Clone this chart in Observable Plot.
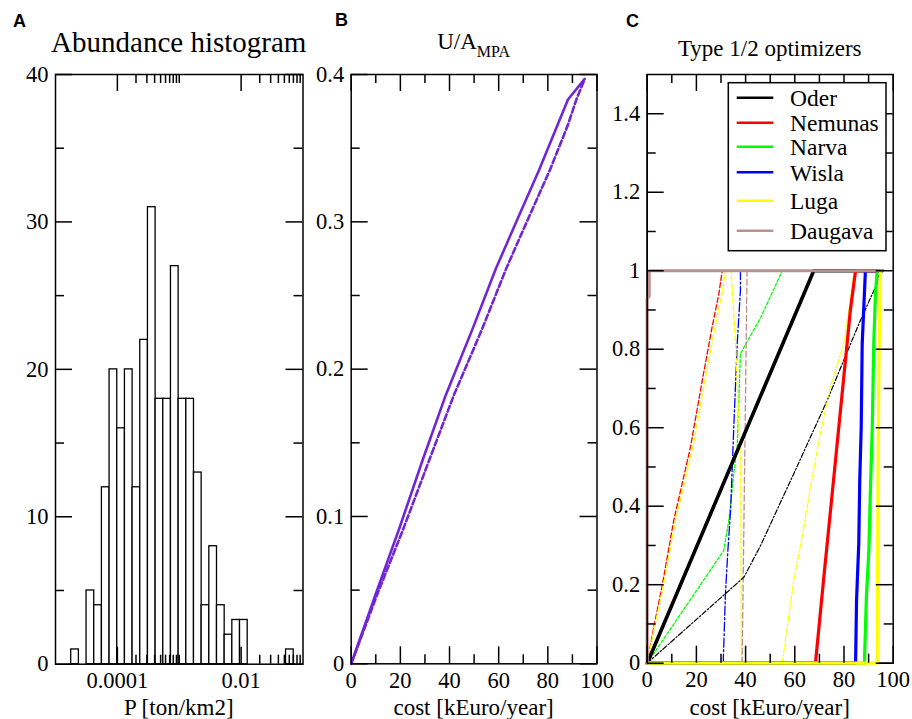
<!DOCTYPE html>
<html>
<head>
<meta charset="utf-8">
<script src="https://cdn.jsdelivr.net/npm/d3@7"></script>
<script src="https://cdn.jsdelivr.net/npm/@observablehq/plot@0.6"></script>
<style>
  body { margin: 0; background: #fff; }
  #chart { position: relative; width: 912px; height: 719px; overflow: hidden; background: #fff; }
  #chart svg { position: absolute; left: 0; top: 0; }
</style>
</head>
<body>
<div id="chart"></div>
<script>
// ---------------- DATA ----------------
// Panel A: histogram of abundance P (log10 bin edges and counts)
const histEdgesLog10 = [-4.746, -4.622, -4.498, -4.374, -4.250, -4.126, -4.002, -3.878, -3.754, -3.630,
  -3.506, -3.382, -3.258, -3.134, -3.010, -2.886, -2.762, -2.638, -2.514, -2.390,
  -2.266, -2.142, -2.018, -1.894, -1.770, -1.646, -1.522, -1.398, -1.274, -1.150];
const histCounts = [1, 0, 5, 4, 12, 20, 16, 20, 12, 22, 31, 18, 18, 27, 18, 18, 13, 4, 8, 4, 2, 3, 3, 0, 0, 0, 0, 0, 1];
const aXTicks = [1e-4, 1e-2];
const aXTickLabels = ["0.0001", "0.01"];
const aYTicks = [0, 10, 20, 30, 40];
const aYTickLabels = ["0", "10", "20", "30", "40"];

// Panel B: U/A_MPA vs cost
const bSolidCost = [0, 10.1, 19.6, 29.1, 38.5, 49.3, 58.8, 68.2, 76.4, 88.2, 95.0];
const bSolidUA   = [0, 0.048, 0.092, 0.1385, 0.1825, 0.227, 0.268, 0.304, 0.335, 0.383, 0.397];
const bDashCost  = [0, 10.8, 21.3, 31.8, 41.8, 53.2, 63.0, 72.5, 80.8, 88.0, 91.6, 95.0];
const bDashUA    = [0, 0.048, 0.092, 0.1385, 0.1825, 0.227, 0.268, 0.304, 0.335, 0.365, 0.383, 0.397];
const bXTicks = [0, 20, 40, 60, 80, 100];
const bXTickLabels = ["0", "20", "40", "60", "80", "100"];
const bYTicks = [0, 0.1, 0.2, 0.3, 0.4];
const bYTickLabels = ["0", "0.1", "0.2", "0.3", "0.4"];

// Panel C: Type 1/2 optimizers, [cost, fraction]
const rivers = ["Oder", "Nemunas", "Narva", "Wisla", "Luga", "Daugava"];
const riverColors = ["#000000", "#ff0000", "#00ff00", "#0000ff", "#ffff00", "#bc8f8f"];

const oderThick    = [[0,0],[67.7,1],[95.5,1]];
const nemunasThick = [[0,0],[68.4,0],[71.8,0.219],[75.2,0.432],[77.9,0.602],[80.6,0.772],[82.6,0.9],[84.7,1],[95.5,1]];
const narvaThick   = [[0,0],[88.3,0],[89.1,0.168],[90.1,0.287],[90.7,0.432],[91.5,0.602],[92.1,0.815],[92.8,0.942],[93.5,1],[95.5,1]];
const wislaThick   = [[0,0],[84.7,0],[85.1,0.16],[86.0,0.304],[86.4,0.466],[87.0,0.602],[87.4,0.815],[88.3,0.942],[88.7,1],[95.5,1]];
const lugaThick    = [[0,0],[93.5,0],[93.8,0.43],[94.2,0.77],[94.8,1],[95.5,1]];
const daugavaThick = [[0,0],[0,0.93],[0.8,0.935],[0.8,1],[95.5,1]];

const oderThin     = [[0,0],[39.3,0.219],[46.1,0.3],[59.6,0.483],[73.2,0.670],[79.9,0.772],[86.7,0.874],[93.5,0.968],[94.2,0.993]];
const nemunasThin  = [[0,0],[2.7,0.092],[6.1,0.198],[10.8,0.364],[17.6,0.551],[22.4,0.721],[26.4,0.857],[29.1,0.94],[30.5,1]];
const narvaThin    = [[0,0],[31.1,0.287],[33.2,0.364],[35.2,0.483],[36.6,0.551],[37.9,0.789],[46.1,0.88],[54.9,1]];
const wislaThin    = [[30.9,0],[31.8,0.177],[32.8,0.287],[33.9,0.39],[35.2,0.602],[36.6,0.815],[37.9,0.95],[37.9,1]];
const lugaThinA    = [[0,0],[3.0,0.092],[6.6,0.198],[11.5,0.364],[18.6,0.551],[23.5,0.721],[27.6,0.857],[30.4,0.94],[31.8,1]];
const lugaThinB    = [[38.3,0],[38.1,0.35],[37.9,0.52],[37.0,0.65],[35.9,0.815],[34.1,1]];
const lugaThinC    = [[54.9,0],[59.6,0.211],[63.7,0.347],[66.4,0.449],[70.4,0.585],[74.5,0.704],[79.9,0.815],[82.0,0.9],[84.0,0.993]];
const daugavaThin  = [[38.6,0],[40.6,1]];

const cXTicks = [0, 20, 40, 60, 80, 100];
const cXTickLabels = ["0", "20", "40", "60", "80", "100"];
const cYTicks = [0, 0.2, 0.4, 0.6, 0.8, 1.0, 1.2, 1.4];
const cYTickLabels = ["0", "0.2", "0.4", "0.6", "0.8", "1", "1.2", "1.4"];

// ---------------- LAYOUT ----------------
const W = 912, H = 719;
const serif = "'Liberation Serif', 'Times New Roman', serif";
const LA = {left: 55, right: 302.5, top: 74, bottom: 663.7};
const LB = {left: 350.7, right: 596.5, top: 74, bottom: 663.3};
const LC = {left: 646.7, right: 892.7, top: 74, bottom: 662.7};
const MAJ = 17, MIN = 9;

function margins(L) {
  return {width: W, height: H, marginLeft: L.left, marginRight: W - L.right, marginTop: L.top, marginBottom: H - L.bottom};
}
const baseStyle = {background: "transparent", color: "black", fontFamily: serif, fontSize: "22px", overflow: "visible"};

function xTicks(values, len, L) {
  const fh = L.bottom - L.top;
  return [
    Plot.tickX(values, {x: d => d, insetTop: fh - len, stroke: "black", strokeWidth: 1.5}),
    Plot.tickX(values, {x: d => d, insetBottom: fh - len, stroke: "black", strokeWidth: 1.5})
  ];
}
function yTicks(values, len, L) {
  const fw = L.right - L.left;
  return [
    Plot.tickY(values, {y: d => d, insetRight: fw - len, stroke: "black", strokeWidth: 1.5}),
    Plot.tickY(values, {y: d => d, insetLeft: fw - len, stroke: "black", strokeWidth: 1.5})
  ];
}
function labelAxes(xt, xl, yt, yl) {
  return [
    Plot.axisX({ticks: xt, tickFormat: d => xl[xt.indexOf(d)], tickSize: 0, tickPadding: 8, label: null, fontSize: 22.5}),
    Plot.axisY({ticks: yt, tickFormat: d => yl[yt.indexOf(d)], tickSize: 0, tickPadding: 7, label: null, fontSize: 22.5})
  ];
}

const chart = document.getElementById("chart");

// ---------------- PANEL A ----------------
const bins = histCounts.map((c, i) => ({
  x1: Math.pow(10, histEdgesLog10[i]),
  x2: Math.pow(10, histEdgesLog10[i + 1]),
  count: c
})).filter(d => d.count > 0);

const aMinor = [2e-4,3e-4,4e-4,5e-4,6e-4,7e-4,8e-4,9e-4,1e-3, 2e-2,3e-2,4e-2,5e-2,6e-2,7e-2,8e-2,9e-2];
const plotA = Plot.plot({
  ...margins(LA),
  style: baseStyle,
  x: {type: "log", domain: [1e-5, 1e-1]},
  y: {domain: [0, 40]},
  marks: [
    Plot.rectY(bins, {x1: "x1", x2: "x2", y: "count", fill: "white", stroke: "black", strokeWidth: 1.3}),
    Plot.frame({stroke: "black", strokeWidth: 1.5}),
    ...xTicks(aXTicks, MAJ, LA),
    ...xTicks(aMinor, MIN, LA),
    ...yTicks(aYTicks, MAJ, LA),
    ...yTicks([5, 15, 25, 35], MIN, LA),
    ...labelAxes(aXTicks, aXTickLabels, aYTicks, aYTickLabels)
  ]
});
chart.appendChild(plotA);

// ---------------- PANEL B ----------------
const purple = "#7126d6";
const bSolid = bSolidCost.map((c, i) => ({cost: c, v: bSolidUA[i]}));
const bDash = bDashCost.map((c, i) => ({cost: c, v: bDashUA[i]}));
const plotB = Plot.plot({
  ...margins(LB),
  style: baseStyle,
  x: {domain: [0, 100]},
  y: {domain: [0, 0.4]},
  marks: [
    Plot.frame({stroke: "black", strokeWidth: 1.5}),
    Plot.line(bDash, {x: "cost", y: "v", stroke: purple, strokeWidth: 2.6, strokeDasharray: "6,3"}),
    Plot.line(bSolid, {x: "cost", y: "v", stroke: purple, strokeWidth: 2.6}),
    ...xTicks(bXTicks, MAJ, LB),
    ...xTicks([10, 30, 50, 70, 90], MIN, LB),
    ...yTicks(bYTicks, MAJ, LB),
    ...yTicks([0.05, 0.15, 0.25, 0.35], MIN, LB),
    ...labelAxes(bXTicks, bXTickLabels, bYTicks, bYTickLabels)
  ]
});
chart.appendChild(plotB);

// ---------------- PANEL C ----------------
function ln(data, color, width, dash) {
  return Plot.line(data, {x: d => d[0], y: d => d[1], stroke: color, strokeWidth: width,
    strokeDasharray: dash || null, strokeLinejoin: "miter"});
}
const C = riverColors;
const plotC = Plot.plot({
  ...margins(LC),
  style: baseStyle,
  x: {domain: [0, 100]},
  y: {domain: [0, 1.5]},
  marks: [
    Plot.frame({stroke: "black", strokeWidth: 1.5}),
    // thin curves
    ln(nemunasThin, C[1], 1.3, "5,2.5"),
    ln(lugaThinA, C[4], 1.3, "5,2.5"),
    ln(narvaThin, C[2], 1.3, "3,2"),
    ln(wislaThin, C[3], 1.3, "9,2.5,2,2.5"),
    ln(lugaThinB, C[4], 1.3, "5,2.5"),
    ln(daugavaThin, C[5], 1.3, "6,3"),
    ln(oderThin, C[0], 1.2, "5,2,1.5,2"),
    ln(lugaThinC, C[4], 1.2, "5,2,1.5,2"),
    // thick curves
    ln(oderThick, C[0], 3.6),
    ln(nemunasThick, C[1], 3.2),
    ln(narvaThick, C[2], 3.2),
    ln(wislaThick, C[3], 3.2),
    ln(lugaThick, C[4], 3.2),
    ln(daugavaThick, C[5], 3.2),
    Plot.ruleX([0], {stroke: "black", strokeWidth: 1.5}),
    ...xTicks(cXTicks, MAJ, LC),
    ...xTicks([10, 30, 50, 70, 90], MIN, LC),
    ...yTicks(cYTicks, MAJ, LC),
    ...yTicks([0.1, 0.3, 0.5, 0.7, 0.9, 1.1, 1.3], MIN, LC),
    ...labelAxes(cXTicks, cXTickLabels, cYTicks, cYTickLabels)
  ]
});
chart.appendChild(plotC);

// ---------------- ANNOTATIONS (titles, labels, legend) ----------------
const svg = d3.select(chart).append("svg").attr("width", W).attr("height", H)
  .style("font-family", serif).style("overflow", "visible");

const sans = "'Liberation Sans', Arial, sans-serif";
[["A", 13, 27], ["B", 335, 26], ["C", 626, 27]].forEach(([t, x, y]) =>
  svg.append("text").attr("x", x).attr("y", y).attr("font-family", sans).attr("font-weight", "bold")
    .attr("font-size", 18).text(t));

const cx = L => (L.left + L.right) / 2;
svg.append("text").attr("x", cx(LA)).attr("y", 52).attr("text-anchor", "middle").attr("font-size", 29)
  .text("Abundance histogram");
const tB = svg.append("text").attr("x", cx(LB)).attr("y", 49).attr("text-anchor", "middle").attr("font-size", 23);
tB.append("tspan").text("U/A");
tB.append("tspan").attr("font-size", 16).attr("dy", 8).text("MPA");
svg.append("text").attr("x", cx(LC)).attr("y", 56).attr("text-anchor", "middle").attr("font-size", 23)
  .text("Type 1/2 optimizers");

svg.append("text").attr("x", cx(LA)).attr("y", 714.5).attr("text-anchor", "middle").attr("font-size", 23)
  .text("P [ton/km2]");
svg.append("text").attr("x", cx(LB)).attr("y", 714.5).attr("text-anchor", "middle").attr("font-size", 23)
  .text("cost [kEuro/year]");
svg.append("text").attr("x", cx(LC)).attr("y", 714.5).attr("text-anchor", "middle").attr("font-size", 23)
  .text("cost [kEuro/year]");

// legend
const leg = svg.append("g");
leg.append("rect").attr("x", 728.3).attr("y", 82.7).attr("width", 157.7).attr("height", 168)
  .attr("fill", "white").attr("stroke", "black").attr("stroke-width", 1.5);
const rowY = [97.7, 122.7, 146.7, 172.3, 200.7, 230.7];
rivers.forEach((r, i) => {
  leg.append("line").attr("x1", 736.7).attr("x2", 773.3).attr("y1", rowY[i]).attr("y2", rowY[i])
    .attr("stroke", riverColors[i]).attr("stroke-width", 2.5);
  leg.append("text").attr("x", 790).attr("y", rowY[i] + 8.5).attr("font-size", 23.5).text(r);
});
</script>
</body>
</html>
